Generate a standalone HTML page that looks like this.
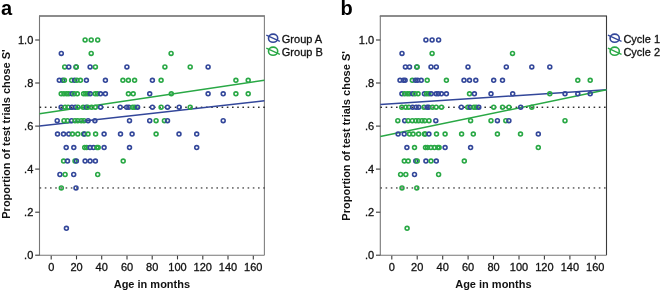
<!DOCTYPE html>
<html><head><meta charset="utf-8"><style>
html,body{margin:0;padding:0;background:#fff;}
svg{display:block;will-change:transform;filter:blur(0.3px);font-family:"Liberation Sans",sans-serif;}
</style></head><body>
<svg width="661" height="291" viewBox="0 0 661 291">
<rect width="661" height="291" fill="#fff"/>
<g stroke="#777" stroke-width="1.1" fill="none">
<path d="M39.0 16.0 H264.9" stroke="#666" stroke-width="1.5"/>
<path d="M264.4 16.0 V255.2" stroke="#808080"/>
<path d="M39.5 16.0 V255.2 H264.4"/>
</g><g stroke="#3a3a3a" stroke-width="1.1" fill="none">
<path d="M35.2 255.2 H39.5"/>
<path d="M35.2 212.2 H39.5"/>
<path d="M35.2 169.1 H39.5"/>
<path d="M35.2 126.1 H39.5"/>
<path d="M35.2 83.0 H39.5"/>
<path d="M35.2 40.0 H39.5"/>
<path d="M51.2 255.7 V259.4"/>
<path d="M76.5 255.7 V259.4"/>
<path d="M101.7 255.7 V259.4"/>
<path d="M127.0 255.7 V259.4"/>
<path d="M152.2 255.7 V259.4"/>
<path d="M177.5 255.7 V259.4"/>
<path d="M202.8 255.7 V259.4"/>
<path d="M228.0 255.7 V259.4"/>
<path d="M253.3 255.7 V259.4"/>
</g>
<g fill="#1a1a1a"><rect x="39.6" y="106.6" width="1.6" height="1.3"/><rect x="44.8" y="106.6" width="1.6" height="1.3"/><rect x="50.0" y="106.6" width="1.6" height="1.3"/><rect x="55.2" y="106.6" width="1.6" height="1.3"/><rect x="60.4" y="106.6" width="1.6" height="1.3"/><rect x="65.6" y="106.6" width="1.6" height="1.3"/><rect x="70.8" y="106.6" width="1.6" height="1.3"/><rect x="76.0" y="106.6" width="1.6" height="1.3"/><rect x="81.2" y="106.6" width="1.6" height="1.3"/><rect x="86.4" y="106.6" width="1.6" height="1.3"/><rect x="91.6" y="106.6" width="1.6" height="1.3"/><rect x="96.8" y="106.6" width="1.6" height="1.3"/><rect x="102.0" y="106.6" width="1.6" height="1.3"/><rect x="107.2" y="106.6" width="1.6" height="1.3"/><rect x="112.4" y="106.6" width="1.6" height="1.3"/><rect x="117.6" y="106.6" width="1.6" height="1.3"/><rect x="122.8" y="106.6" width="1.6" height="1.3"/><rect x="128.0" y="106.6" width="1.6" height="1.3"/><rect x="133.2" y="106.6" width="1.6" height="1.3"/><rect x="138.4" y="106.6" width="1.6" height="1.3"/><rect x="143.6" y="106.6" width="1.6" height="1.3"/><rect x="148.8" y="106.6" width="1.6" height="1.3"/><rect x="154.0" y="106.6" width="1.6" height="1.3"/><rect x="159.2" y="106.6" width="1.6" height="1.3"/><rect x="164.4" y="106.6" width="1.6" height="1.3"/><rect x="169.6" y="106.6" width="1.6" height="1.3"/><rect x="174.8" y="106.6" width="1.6" height="1.3"/><rect x="180.0" y="106.6" width="1.6" height="1.3"/><rect x="185.2" y="106.6" width="1.6" height="1.3"/><rect x="190.4" y="106.6" width="1.6" height="1.3"/><rect x="195.6" y="106.6" width="1.6" height="1.3"/><rect x="200.8" y="106.6" width="1.6" height="1.3"/><rect x="206.0" y="106.6" width="1.6" height="1.3"/><rect x="211.2" y="106.6" width="1.6" height="1.3"/><rect x="216.4" y="106.6" width="1.6" height="1.3"/><rect x="221.6" y="106.6" width="1.6" height="1.3"/><rect x="226.8" y="106.6" width="1.6" height="1.3"/><rect x="232.0" y="106.6" width="1.6" height="1.3"/><rect x="237.2" y="106.6" width="1.6" height="1.3"/><rect x="242.4" y="106.6" width="1.6" height="1.3"/><rect x="247.6" y="106.6" width="1.6" height="1.3"/><rect x="252.8" y="106.6" width="1.6" height="1.3"/><rect x="258.0" y="106.6" width="1.6" height="1.3"/><rect x="263.2" y="106.6" width="1.6" height="1.3"/></g><g fill="#444"><rect x="39.6" y="187.3" width="1.6" height="1.3"/><rect x="44.8" y="187.3" width="1.6" height="1.3"/><rect x="50.0" y="187.3" width="1.6" height="1.3"/><rect x="55.2" y="187.3" width="1.6" height="1.3"/><rect x="60.4" y="187.3" width="1.6" height="1.3"/><rect x="65.6" y="187.3" width="1.6" height="1.3"/><rect x="70.8" y="187.3" width="1.6" height="1.3"/><rect x="76.0" y="187.3" width="1.6" height="1.3"/><rect x="81.2" y="187.3" width="1.6" height="1.3"/><rect x="86.4" y="187.3" width="1.6" height="1.3"/><rect x="91.6" y="187.3" width="1.6" height="1.3"/><rect x="96.8" y="187.3" width="1.6" height="1.3"/><rect x="102.0" y="187.3" width="1.6" height="1.3"/><rect x="107.2" y="187.3" width="1.6" height="1.3"/><rect x="112.4" y="187.3" width="1.6" height="1.3"/><rect x="117.6" y="187.3" width="1.6" height="1.3"/><rect x="122.8" y="187.3" width="1.6" height="1.3"/><rect x="128.0" y="187.3" width="1.6" height="1.3"/><rect x="133.2" y="187.3" width="1.6" height="1.3"/><rect x="138.4" y="187.3" width="1.6" height="1.3"/><rect x="143.6" y="187.3" width="1.6" height="1.3"/><rect x="148.8" y="187.3" width="1.6" height="1.3"/><rect x="154.0" y="187.3" width="1.6" height="1.3"/><rect x="159.2" y="187.3" width="1.6" height="1.3"/><rect x="164.4" y="187.3" width="1.6" height="1.3"/><rect x="169.6" y="187.3" width="1.6" height="1.3"/><rect x="174.8" y="187.3" width="1.6" height="1.3"/><rect x="180.0" y="187.3" width="1.6" height="1.3"/><rect x="185.2" y="187.3" width="1.6" height="1.3"/><rect x="190.4" y="187.3" width="1.6" height="1.3"/><rect x="195.6" y="187.3" width="1.6" height="1.3"/><rect x="200.8" y="187.3" width="1.6" height="1.3"/><rect x="206.0" y="187.3" width="1.6" height="1.3"/><rect x="211.2" y="187.3" width="1.6" height="1.3"/><rect x="216.4" y="187.3" width="1.6" height="1.3"/><rect x="221.6" y="187.3" width="1.6" height="1.3"/><rect x="226.8" y="187.3" width="1.6" height="1.3"/><rect x="232.0" y="187.3" width="1.6" height="1.3"/><rect x="237.2" y="187.3" width="1.6" height="1.3"/><rect x="242.4" y="187.3" width="1.6" height="1.3"/><rect x="247.6" y="187.3" width="1.6" height="1.3"/><rect x="252.8" y="187.3" width="1.6" height="1.3"/><rect x="258.0" y="187.3" width="1.6" height="1.3"/><rect x="263.2" y="187.3" width="1.6" height="1.3"/></g>
<line x1="39.5" y1="113.8" x2="264.4" y2="80.2" stroke="#29a845" stroke-width="1.5"/>
<line x1="39.5" y1="126.1" x2="264.4" y2="100.8" stroke="#33479a" stroke-width="1.5"/>
<g fill="none" stroke-width="1.6"><circle cx="85.1" cy="40.0" r="1.95" stroke="#29a845"/>
<circle cx="91.2" cy="40.0" r="1.95" stroke="#29a845"/>
<circle cx="97.7" cy="40.0" r="1.95" stroke="#29a845"/>
<circle cx="61.3" cy="53.4" r="1.95" stroke="#33479a"/>
<circle cx="91.2" cy="53.4" r="1.95" stroke="#29a845"/>
<circle cx="171.1" cy="53.4" r="1.95" stroke="#29a845"/>
<circle cx="64.7" cy="66.9" r="1.95" stroke="#29a845"/>
<circle cx="68.8" cy="66.9" r="1.95" stroke="#33479a"/>
<circle cx="76.0" cy="66.9" r="1.95" stroke="#33479a"/>
<circle cx="76.3" cy="66.9" r="1.95" stroke="#29a845"/>
<circle cx="90.1" cy="66.9" r="1.95" stroke="#33479a"/>
<circle cx="95.4" cy="66.9" r="1.95" stroke="#29a845"/>
<circle cx="126.9" cy="66.9" r="1.95" stroke="#33479a"/>
<circle cx="164.9" cy="66.9" r="1.95" stroke="#29a845"/>
<circle cx="190.2" cy="66.9" r="1.95" stroke="#29a845"/>
<circle cx="208.1" cy="66.9" r="1.95" stroke="#33479a"/>
<circle cx="59.3" cy="80.3" r="1.95" stroke="#33479a"/>
<circle cx="62.7" cy="80.3" r="1.95" stroke="#33479a"/>
<circle cx="64.4" cy="80.3" r="1.95" stroke="#29a845"/>
<circle cx="71.6" cy="80.3" r="1.95" stroke="#29a845"/>
<circle cx="74.6" cy="80.3" r="1.95" stroke="#33479a"/>
<circle cx="76.9" cy="80.3" r="1.95" stroke="#29a845"/>
<circle cx="80.4" cy="80.3" r="1.95" stroke="#29a845"/>
<circle cx="86.4" cy="80.3" r="1.95" stroke="#33479a"/>
<circle cx="105.4" cy="80.3" r="1.95" stroke="#33479a"/>
<circle cx="122.9" cy="80.3" r="1.95" stroke="#29a845"/>
<circle cx="128.4" cy="80.3" r="1.95" stroke="#29a845"/>
<circle cx="134.6" cy="80.3" r="1.95" stroke="#29a845"/>
<circle cx="152.4" cy="80.3" r="1.95" stroke="#33479a"/>
<circle cx="161.1" cy="80.3" r="1.95" stroke="#29a845"/>
<circle cx="235.9" cy="80.3" r="1.95" stroke="#29a845"/>
<circle cx="248.2" cy="80.3" r="1.95" stroke="#29a845"/>
<circle cx="61.2" cy="93.8" r="1.95" stroke="#29a845"/>
<circle cx="63.9" cy="93.8" r="1.95" stroke="#29a845"/>
<circle cx="66.6" cy="93.8" r="1.95" stroke="#29a845"/>
<circle cx="68.8" cy="93.8" r="1.95" stroke="#29a845"/>
<circle cx="72.0" cy="93.8" r="1.95" stroke="#33479a"/>
<circle cx="74.2" cy="93.8" r="1.95" stroke="#29a845"/>
<circle cx="77.3" cy="93.8" r="1.95" stroke="#29a845"/>
<circle cx="83.6" cy="93.8" r="1.95" stroke="#29a845"/>
<circle cx="85.8" cy="93.8" r="1.95" stroke="#29a845"/>
<circle cx="88.0" cy="93.8" r="1.95" stroke="#29a845"/>
<circle cx="90.3" cy="93.8" r="1.95" stroke="#33479a"/>
<circle cx="95.2" cy="93.8" r="1.95" stroke="#29a845"/>
<circle cx="97.4" cy="93.8" r="1.95" stroke="#29a845"/>
<circle cx="100.5" cy="93.8" r="1.95" stroke="#33479a"/>
<circle cx="105.4" cy="93.8" r="1.95" stroke="#33479a"/>
<circle cx="128.4" cy="93.8" r="1.95" stroke="#29a845"/>
<circle cx="133.2" cy="93.8" r="1.95" stroke="#29a845"/>
<circle cx="149.7" cy="93.8" r="1.95" stroke="#33479a"/>
<circle cx="171.3" cy="93.8" r="1.95" stroke="#29a845"/>
<circle cx="208.1" cy="93.8" r="1.95" stroke="#33479a"/>
<circle cx="223.2" cy="93.8" r="1.95" stroke="#33479a"/>
<circle cx="235.9" cy="93.8" r="1.95" stroke="#29a845"/>
<circle cx="248.2" cy="93.8" r="1.95" stroke="#29a845"/>
<circle cx="61.1" cy="107.2" r="1.95" stroke="#33479a"/>
<circle cx="65.1" cy="107.2" r="1.95" stroke="#29a845"/>
<circle cx="68.1" cy="107.2" r="1.95" stroke="#29a845"/>
<circle cx="71.9" cy="107.2" r="1.95" stroke="#33479a"/>
<circle cx="75.3" cy="107.2" r="1.95" stroke="#33479a"/>
<circle cx="77.9" cy="107.2" r="1.95" stroke="#29a845"/>
<circle cx="83.2" cy="107.2" r="1.95" stroke="#29a845"/>
<circle cx="86.3" cy="107.2" r="1.95" stroke="#33479a"/>
<circle cx="87.8" cy="107.2" r="1.95" stroke="#29a845"/>
<circle cx="91.6" cy="107.2" r="1.95" stroke="#29a845"/>
<circle cx="95.3" cy="107.2" r="1.95" stroke="#29a845"/>
<circle cx="100.6" cy="107.2" r="1.95" stroke="#33479a"/>
<circle cx="120.2" cy="107.2" r="1.95" stroke="#33479a"/>
<circle cx="126.7" cy="107.2" r="1.95" stroke="#33479a"/>
<circle cx="128.9" cy="107.2" r="1.95" stroke="#33479a"/>
<circle cx="132.7" cy="107.2" r="1.95" stroke="#29a845"/>
<circle cx="134.9" cy="107.2" r="1.95" stroke="#29a845"/>
<circle cx="137.6" cy="107.2" r="1.95" stroke="#33479a"/>
<circle cx="152.4" cy="107.2" r="1.95" stroke="#33479a"/>
<circle cx="161.1" cy="107.2" r="1.95" stroke="#29a845"/>
<circle cx="167.5" cy="107.2" r="1.95" stroke="#33479a"/>
<circle cx="179.2" cy="107.2" r="1.95" stroke="#33479a"/>
<circle cx="190.2" cy="107.2" r="1.95" stroke="#29a845"/>
<circle cx="57.2" cy="120.7" r="1.95" stroke="#33479a"/>
<circle cx="64.0" cy="120.7" r="1.95" stroke="#29a845"/>
<circle cx="67.5" cy="120.7" r="1.95" stroke="#29a845"/>
<circle cx="71.6" cy="120.7" r="1.95" stroke="#33479a"/>
<circle cx="75.0" cy="120.7" r="1.95" stroke="#29a845"/>
<circle cx="77.8" cy="120.7" r="1.95" stroke="#29a845"/>
<circle cx="81.2" cy="120.7" r="1.95" stroke="#29a845"/>
<circle cx="84.0" cy="120.7" r="1.95" stroke="#29a845"/>
<circle cx="88.1" cy="120.7" r="1.95" stroke="#33479a"/>
<circle cx="94.9" cy="120.7" r="1.95" stroke="#33479a"/>
<circle cx="129.5" cy="120.7" r="1.95" stroke="#33479a"/>
<circle cx="149.7" cy="120.7" r="1.95" stroke="#33479a"/>
<circle cx="156.1" cy="120.7" r="1.95" stroke="#29a845"/>
<circle cx="164.4" cy="120.7" r="1.95" stroke="#29a845"/>
<circle cx="167.5" cy="120.7" r="1.95" stroke="#33479a"/>
<circle cx="223.2" cy="120.7" r="1.95" stroke="#33479a"/>
<circle cx="57.5" cy="134.1" r="1.95" stroke="#33479a"/>
<circle cx="63.5" cy="134.1" r="1.95" stroke="#33479a"/>
<circle cx="68.8" cy="134.1" r="1.95" stroke="#33479a"/>
<circle cx="72.4" cy="134.1" r="1.95" stroke="#29a845"/>
<circle cx="77.8" cy="134.1" r="1.95" stroke="#29a845"/>
<circle cx="83.6" cy="134.1" r="1.95" stroke="#29a845"/>
<circle cx="84.5" cy="134.1" r="1.95" stroke="#33479a"/>
<circle cx="88.0" cy="134.1" r="1.95" stroke="#29a845"/>
<circle cx="95.6" cy="134.1" r="1.95" stroke="#29a845"/>
<circle cx="104.1" cy="134.1" r="1.95" stroke="#33479a"/>
<circle cx="120.5" cy="134.1" r="1.95" stroke="#33479a"/>
<circle cx="132.1" cy="134.1" r="1.95" stroke="#33479a"/>
<circle cx="156.1" cy="134.1" r="1.95" stroke="#29a845"/>
<circle cx="179.0" cy="134.1" r="1.95" stroke="#33479a"/>
<circle cx="196.7" cy="134.1" r="1.95" stroke="#33479a"/>
<circle cx="66.2" cy="147.6" r="1.95" stroke="#33479a"/>
<circle cx="73.8" cy="147.6" r="1.95" stroke="#33479a"/>
<circle cx="84.7" cy="147.6" r="1.95" stroke="#29a845"/>
<circle cx="86.7" cy="147.6" r="1.95" stroke="#29a845"/>
<circle cx="90.0" cy="147.6" r="1.95" stroke="#33479a"/>
<circle cx="93.5" cy="147.6" r="1.95" stroke="#33479a"/>
<circle cx="97.0" cy="147.6" r="1.95" stroke="#29a845"/>
<circle cx="98.2" cy="147.6" r="1.95" stroke="#29a845"/>
<circle cx="104.1" cy="147.6" r="1.95" stroke="#33479a"/>
<circle cx="129.5" cy="147.6" r="1.95" stroke="#33479a"/>
<circle cx="196.7" cy="147.6" r="1.95" stroke="#33479a"/>
<circle cx="63.6" cy="161.1" r="1.95" stroke="#29a845"/>
<circle cx="67.5" cy="161.1" r="1.95" stroke="#33479a"/>
<circle cx="75.0" cy="161.1" r="1.95" stroke="#29a845"/>
<circle cx="76.4" cy="161.1" r="1.95" stroke="#33479a"/>
<circle cx="85.1" cy="161.1" r="1.95" stroke="#33479a"/>
<circle cx="90.1" cy="161.1" r="1.95" stroke="#33479a"/>
<circle cx="95.4" cy="161.1" r="1.95" stroke="#33479a"/>
<circle cx="123.2" cy="161.1" r="1.95" stroke="#29a845"/>
<circle cx="59.9" cy="174.5" r="1.95" stroke="#33479a"/>
<circle cx="65.1" cy="174.5" r="1.95" stroke="#29a845"/>
<circle cx="73.7" cy="174.5" r="1.95" stroke="#33479a"/>
<circle cx="97.7" cy="174.5" r="1.95" stroke="#29a845"/>
<circle cx="61.3" cy="187.9" r="1.95" stroke="#29a845"/>
<circle cx="76.0" cy="187.9" r="1.95" stroke="#33479a"/>
<circle cx="66.4" cy="228.3" r="1.95" stroke="#33479a"/></g>
<g font-size="11" fill="#111" stroke="#111" stroke-width="0.3">
<text x="33.3" y="259.0" text-anchor="end">.0</text>
<text x="33.3" y="216.0" text-anchor="end">.2</text>
<text x="33.3" y="172.9" text-anchor="end">.4</text>
<text x="33.3" y="129.9" text-anchor="end">.6</text>
<text x="33.3" y="86.8" text-anchor="end">.8</text>
<text x="33.3" y="43.8" text-anchor="end">1.0</text>
<text x="51.2" y="270.6" text-anchor="middle">0</text>
<text x="76.5" y="270.6" text-anchor="middle">20</text>
<text x="101.7" y="270.6" text-anchor="middle">40</text>
<text x="127.0" y="270.6" text-anchor="middle">60</text>
<text x="152.2" y="270.6" text-anchor="middle">80</text>
<text x="177.5" y="270.6" text-anchor="middle">100</text>
<text x="202.8" y="270.6" text-anchor="middle">120</text>
<text x="228.0" y="270.6" text-anchor="middle">140</text>
<text x="253.3" y="270.6" text-anchor="middle">160</text>
</g>
<text x="151.9" y="287.7" font-size="11" font-weight="bold" text-anchor="middle" fill="#111">Age in months</text>
<text transform="translate(10.2,134.00) rotate(-90)" font-size="11" font-weight="bold" text-anchor="middle" fill="#111">Proportion of test trials chose S'</text>
<text x="1.0" y="15.1" font-size="20" font-weight="bold" fill="#000">a</text>
<ellipse cx="273.1" cy="38.2" rx="4.6" ry="4.1" fill="none" stroke="#33479a" stroke-width="1.6"/>
<line x1="266.3" y1="35.2" x2="279.9" y2="41.4" stroke="#33479a" stroke-width="1.3"/>
<text x="281.8" y="43.0" font-size="11" fill="#111" stroke="#111" stroke-width="0.3">Group A</text>
<ellipse cx="273.1" cy="51.2" rx="4.6" ry="4.1" fill="none" stroke="#29a845" stroke-width="1.6"/>
<line x1="266.3" y1="48.2" x2="279.9" y2="54.4" stroke="#29a845" stroke-width="1.3"/>
<text x="281.8" y="56.0" font-size="11" fill="#111" stroke="#111" stroke-width="0.3">Group B</text>
<g stroke="#777" stroke-width="1.1" fill="none">
<path d="M379.8 16.0 H607.0" stroke="#666" stroke-width="1.5"/>
<path d="M606.5 16.0 V255.2" stroke="#3a3a3a"/>
<path d="M380.3 16.0 V255.2 H606.5"/>
</g><g stroke="#3a3a3a" stroke-width="1.1" fill="none">
<path d="M376.0 255.2 H380.3"/>
<path d="M376.0 212.2 H380.3"/>
<path d="M376.0 169.1 H380.3"/>
<path d="M376.0 126.1 H380.3"/>
<path d="M376.0 83.0 H380.3"/>
<path d="M376.0 40.0 H380.3"/>
<path d="M391.8 255.7 V259.4"/>
<path d="M417.2 255.7 V259.4"/>
<path d="M442.7 255.7 V259.4"/>
<path d="M468.1 255.7 V259.4"/>
<path d="M493.5 255.7 V259.4"/>
<path d="M519.0 255.7 V259.4"/>
<path d="M544.4 255.7 V259.4"/>
<path d="M569.9 255.7 V259.4"/>
<path d="M595.3 255.7 V259.4"/>
</g>
<g fill="#1a1a1a"><rect x="380.4" y="106.6" width="1.6" height="1.3"/><rect x="385.6" y="106.6" width="1.6" height="1.3"/><rect x="390.8" y="106.6" width="1.6" height="1.3"/><rect x="396.0" y="106.6" width="1.6" height="1.3"/><rect x="401.2" y="106.6" width="1.6" height="1.3"/><rect x="406.4" y="106.6" width="1.6" height="1.3"/><rect x="411.6" y="106.6" width="1.6" height="1.3"/><rect x="416.8" y="106.6" width="1.6" height="1.3"/><rect x="422.0" y="106.6" width="1.6" height="1.3"/><rect x="427.2" y="106.6" width="1.6" height="1.3"/><rect x="432.4" y="106.6" width="1.6" height="1.3"/><rect x="437.6" y="106.6" width="1.6" height="1.3"/><rect x="442.8" y="106.6" width="1.6" height="1.3"/><rect x="448.0" y="106.6" width="1.6" height="1.3"/><rect x="453.2" y="106.6" width="1.6" height="1.3"/><rect x="458.4" y="106.6" width="1.6" height="1.3"/><rect x="463.6" y="106.6" width="1.6" height="1.3"/><rect x="468.8" y="106.6" width="1.6" height="1.3"/><rect x="474.0" y="106.6" width="1.6" height="1.3"/><rect x="479.2" y="106.6" width="1.6" height="1.3"/><rect x="484.4" y="106.6" width="1.6" height="1.3"/><rect x="489.6" y="106.6" width="1.6" height="1.3"/><rect x="494.8" y="106.6" width="1.6" height="1.3"/><rect x="500.0" y="106.6" width="1.6" height="1.3"/><rect x="505.2" y="106.6" width="1.6" height="1.3"/><rect x="510.4" y="106.6" width="1.6" height="1.3"/><rect x="515.6" y="106.6" width="1.6" height="1.3"/><rect x="520.8" y="106.6" width="1.6" height="1.3"/><rect x="526.0" y="106.6" width="1.6" height="1.3"/><rect x="531.2" y="106.6" width="1.6" height="1.3"/><rect x="536.4" y="106.6" width="1.6" height="1.3"/><rect x="541.6" y="106.6" width="1.6" height="1.3"/><rect x="546.8" y="106.6" width="1.6" height="1.3"/><rect x="552.0" y="106.6" width="1.6" height="1.3"/><rect x="557.2" y="106.6" width="1.6" height="1.3"/><rect x="562.4" y="106.6" width="1.6" height="1.3"/><rect x="567.6" y="106.6" width="1.6" height="1.3"/><rect x="572.8" y="106.6" width="1.6" height="1.3"/><rect x="578.0" y="106.6" width="1.6" height="1.3"/><rect x="583.2" y="106.6" width="1.6" height="1.3"/><rect x="588.4" y="106.6" width="1.6" height="1.3"/><rect x="593.6" y="106.6" width="1.6" height="1.3"/><rect x="598.8" y="106.6" width="1.6" height="1.3"/><rect x="604.0" y="106.6" width="1.6" height="1.3"/></g><g fill="#444"><rect x="380.4" y="187.3" width="1.6" height="1.3"/><rect x="385.6" y="187.3" width="1.6" height="1.3"/><rect x="390.8" y="187.3" width="1.6" height="1.3"/><rect x="396.0" y="187.3" width="1.6" height="1.3"/><rect x="401.2" y="187.3" width="1.6" height="1.3"/><rect x="406.4" y="187.3" width="1.6" height="1.3"/><rect x="411.6" y="187.3" width="1.6" height="1.3"/><rect x="416.8" y="187.3" width="1.6" height="1.3"/><rect x="422.0" y="187.3" width="1.6" height="1.3"/><rect x="427.2" y="187.3" width="1.6" height="1.3"/><rect x="432.4" y="187.3" width="1.6" height="1.3"/><rect x="437.6" y="187.3" width="1.6" height="1.3"/><rect x="442.8" y="187.3" width="1.6" height="1.3"/><rect x="448.0" y="187.3" width="1.6" height="1.3"/><rect x="453.2" y="187.3" width="1.6" height="1.3"/><rect x="458.4" y="187.3" width="1.6" height="1.3"/><rect x="463.6" y="187.3" width="1.6" height="1.3"/><rect x="468.8" y="187.3" width="1.6" height="1.3"/><rect x="474.0" y="187.3" width="1.6" height="1.3"/><rect x="479.2" y="187.3" width="1.6" height="1.3"/><rect x="484.4" y="187.3" width="1.6" height="1.3"/><rect x="489.6" y="187.3" width="1.6" height="1.3"/><rect x="494.8" y="187.3" width="1.6" height="1.3"/><rect x="500.0" y="187.3" width="1.6" height="1.3"/><rect x="505.2" y="187.3" width="1.6" height="1.3"/><rect x="510.4" y="187.3" width="1.6" height="1.3"/><rect x="515.6" y="187.3" width="1.6" height="1.3"/><rect x="520.8" y="187.3" width="1.6" height="1.3"/><rect x="526.0" y="187.3" width="1.6" height="1.3"/><rect x="531.2" y="187.3" width="1.6" height="1.3"/><rect x="536.4" y="187.3" width="1.6" height="1.3"/><rect x="541.6" y="187.3" width="1.6" height="1.3"/><rect x="546.8" y="187.3" width="1.6" height="1.3"/><rect x="552.0" y="187.3" width="1.6" height="1.3"/><rect x="557.2" y="187.3" width="1.6" height="1.3"/><rect x="562.4" y="187.3" width="1.6" height="1.3"/><rect x="567.6" y="187.3" width="1.6" height="1.3"/><rect x="572.8" y="187.3" width="1.6" height="1.3"/><rect x="578.0" y="187.3" width="1.6" height="1.3"/><rect x="583.2" y="187.3" width="1.6" height="1.3"/><rect x="588.4" y="187.3" width="1.6" height="1.3"/><rect x="593.6" y="187.3" width="1.6" height="1.3"/><rect x="598.8" y="187.3" width="1.6" height="1.3"/><rect x="604.0" y="187.3" width="1.6" height="1.3"/></g>
<line x1="380.3" y1="104.6" x2="606.5" y2="89.8" stroke="#33479a" stroke-width="1.5"/>
<line x1="380.3" y1="136.6" x2="606.5" y2="89.8" stroke="#29a845" stroke-width="1.5"/>
<g fill="none" stroke-width="1.6"><circle cx="425.9" cy="40.0" r="1.95" stroke="#33479a"/>
<circle cx="432.1" cy="40.0" r="1.95" stroke="#33479a"/>
<circle cx="438.6" cy="40.0" r="1.95" stroke="#33479a"/>
<circle cx="402.0" cy="53.4" r="1.95" stroke="#33479a"/>
<circle cx="432.1" cy="53.4" r="1.95" stroke="#29a845"/>
<circle cx="512.5" cy="53.4" r="1.95" stroke="#29a845"/>
<circle cx="405.4" cy="66.9" r="1.95" stroke="#33479a"/>
<circle cx="409.5" cy="66.9" r="1.95" stroke="#33479a"/>
<circle cx="416.8" cy="66.9" r="1.95" stroke="#33479a"/>
<circle cx="417.1" cy="66.9" r="1.95" stroke="#29a845"/>
<circle cx="431.0" cy="66.9" r="1.95" stroke="#33479a"/>
<circle cx="436.3" cy="66.9" r="1.95" stroke="#33479a"/>
<circle cx="468.0" cy="66.9" r="1.95" stroke="#33479a"/>
<circle cx="506.3" cy="66.9" r="1.95" stroke="#33479a"/>
<circle cx="531.8" cy="66.9" r="1.95" stroke="#33479a"/>
<circle cx="549.8" cy="66.9" r="1.95" stroke="#33479a"/>
<circle cx="400.0" cy="80.3" r="1.95" stroke="#33479a"/>
<circle cx="403.4" cy="80.3" r="1.95" stroke="#33479a"/>
<circle cx="405.1" cy="80.3" r="1.95" stroke="#33479a"/>
<circle cx="412.3" cy="80.3" r="1.95" stroke="#29a845"/>
<circle cx="415.4" cy="80.3" r="1.95" stroke="#33479a"/>
<circle cx="417.7" cy="80.3" r="1.95" stroke="#33479a"/>
<circle cx="421.2" cy="80.3" r="1.95" stroke="#33479a"/>
<circle cx="427.2" cy="80.3" r="1.95" stroke="#29a845"/>
<circle cx="446.4" cy="80.3" r="1.95" stroke="#29a845"/>
<circle cx="464.0" cy="80.3" r="1.95" stroke="#33479a"/>
<circle cx="469.5" cy="80.3" r="1.95" stroke="#33479a"/>
<circle cx="475.8" cy="80.3" r="1.95" stroke="#33479a"/>
<circle cx="493.7" cy="80.3" r="1.95" stroke="#33479a"/>
<circle cx="502.5" cy="80.3" r="1.95" stroke="#33479a"/>
<circle cx="577.8" cy="80.3" r="1.95" stroke="#29a845"/>
<circle cx="590.2" cy="80.3" r="1.95" stroke="#29a845"/>
<circle cx="401.9" cy="93.8" r="1.95" stroke="#33479a"/>
<circle cx="404.6" cy="93.8" r="1.95" stroke="#29a845"/>
<circle cx="407.3" cy="93.8" r="1.95" stroke="#29a845"/>
<circle cx="409.5" cy="93.8" r="1.95" stroke="#29a845"/>
<circle cx="412.7" cy="93.8" r="1.95" stroke="#33479a"/>
<circle cx="415.0" cy="93.8" r="1.95" stroke="#29a845"/>
<circle cx="418.1" cy="93.8" r="1.95" stroke="#29a845"/>
<circle cx="424.4" cy="93.8" r="1.95" stroke="#33479a"/>
<circle cx="426.6" cy="93.8" r="1.95" stroke="#29a845"/>
<circle cx="428.9" cy="93.8" r="1.95" stroke="#29a845"/>
<circle cx="431.2" cy="93.8" r="1.95" stroke="#33479a"/>
<circle cx="436.1" cy="93.8" r="1.95" stroke="#33479a"/>
<circle cx="438.3" cy="93.8" r="1.95" stroke="#33479a"/>
<circle cx="441.4" cy="93.8" r="1.95" stroke="#33479a"/>
<circle cx="446.4" cy="93.8" r="1.95" stroke="#33479a"/>
<circle cx="469.5" cy="93.8" r="1.95" stroke="#29a845"/>
<circle cx="474.4" cy="93.8" r="1.95" stroke="#33479a"/>
<circle cx="491.0" cy="93.8" r="1.95" stroke="#33479a"/>
<circle cx="512.7" cy="93.8" r="1.95" stroke="#33479a"/>
<circle cx="549.8" cy="93.8" r="1.95" stroke="#29a845"/>
<circle cx="565.0" cy="93.8" r="1.95" stroke="#33479a"/>
<circle cx="577.8" cy="93.8" r="1.95" stroke="#33479a"/>
<circle cx="590.2" cy="93.8" r="1.95" stroke="#33479a"/>
<circle cx="401.8" cy="107.2" r="1.95" stroke="#29a845"/>
<circle cx="405.8" cy="107.2" r="1.95" stroke="#29a845"/>
<circle cx="408.8" cy="107.2" r="1.95" stroke="#29a845"/>
<circle cx="412.6" cy="107.2" r="1.95" stroke="#33479a"/>
<circle cx="416.1" cy="107.2" r="1.95" stroke="#33479a"/>
<circle cx="418.7" cy="107.2" r="1.95" stroke="#33479a"/>
<circle cx="424.0" cy="107.2" r="1.95" stroke="#29a845"/>
<circle cx="427.1" cy="107.2" r="1.95" stroke="#33479a"/>
<circle cx="428.7" cy="107.2" r="1.95" stroke="#33479a"/>
<circle cx="432.5" cy="107.2" r="1.95" stroke="#29a845"/>
<circle cx="436.2" cy="107.2" r="1.95" stroke="#29a845"/>
<circle cx="441.5" cy="107.2" r="1.95" stroke="#29a845"/>
<circle cx="461.3" cy="107.2" r="1.95" stroke="#33479a"/>
<circle cx="467.8" cy="107.2" r="1.95" stroke="#29a845"/>
<circle cx="470.0" cy="107.2" r="1.95" stroke="#33479a"/>
<circle cx="473.9" cy="107.2" r="1.95" stroke="#29a845"/>
<circle cx="476.1" cy="107.2" r="1.95" stroke="#29a845"/>
<circle cx="478.8" cy="107.2" r="1.95" stroke="#33479a"/>
<circle cx="493.7" cy="107.2" r="1.95" stroke="#29a845"/>
<circle cx="502.5" cy="107.2" r="1.95" stroke="#29a845"/>
<circle cx="508.9" cy="107.2" r="1.95" stroke="#29a845"/>
<circle cx="520.7" cy="107.2" r="1.95" stroke="#33479a"/>
<circle cx="531.8" cy="107.2" r="1.95" stroke="#29a845"/>
<circle cx="397.8" cy="120.7" r="1.95" stroke="#29a845"/>
<circle cx="404.7" cy="120.7" r="1.95" stroke="#33479a"/>
<circle cx="408.2" cy="120.7" r="1.95" stroke="#29a845"/>
<circle cx="412.3" cy="120.7" r="1.95" stroke="#29a845"/>
<circle cx="415.8" cy="120.7" r="1.95" stroke="#29a845"/>
<circle cx="418.6" cy="120.7" r="1.95" stroke="#29a845"/>
<circle cx="422.0" cy="120.7" r="1.95" stroke="#29a845"/>
<circle cx="424.8" cy="120.7" r="1.95" stroke="#29a845"/>
<circle cx="429.0" cy="120.7" r="1.95" stroke="#29a845"/>
<circle cx="435.8" cy="120.7" r="1.95" stroke="#33479a"/>
<circle cx="470.6" cy="120.7" r="1.95" stroke="#29a845"/>
<circle cx="491.0" cy="120.7" r="1.95" stroke="#29a845"/>
<circle cx="497.4" cy="120.7" r="1.95" stroke="#33479a"/>
<circle cx="505.8" cy="120.7" r="1.95" stroke="#29a845"/>
<circle cx="508.9" cy="120.7" r="1.95" stroke="#33479a"/>
<circle cx="565.0" cy="120.7" r="1.95" stroke="#29a845"/>
<circle cx="398.1" cy="134.1" r="1.95" stroke="#33479a"/>
<circle cx="404.2" cy="134.1" r="1.95" stroke="#33479a"/>
<circle cx="409.5" cy="134.1" r="1.95" stroke="#29a845"/>
<circle cx="413.1" cy="134.1" r="1.95" stroke="#29a845"/>
<circle cx="418.6" cy="134.1" r="1.95" stroke="#29a845"/>
<circle cx="424.4" cy="134.1" r="1.95" stroke="#29a845"/>
<circle cx="425.3" cy="134.1" r="1.95" stroke="#29a845"/>
<circle cx="428.9" cy="134.1" r="1.95" stroke="#33479a"/>
<circle cx="436.5" cy="134.1" r="1.95" stroke="#29a845"/>
<circle cx="445.1" cy="134.1" r="1.95" stroke="#29a845"/>
<circle cx="461.6" cy="134.1" r="1.95" stroke="#29a845"/>
<circle cx="473.3" cy="134.1" r="1.95" stroke="#29a845"/>
<circle cx="497.4" cy="134.1" r="1.95" stroke="#29a845"/>
<circle cx="520.5" cy="134.1" r="1.95" stroke="#29a845"/>
<circle cx="538.3" cy="134.1" r="1.95" stroke="#33479a"/>
<circle cx="406.9" cy="147.6" r="1.95" stroke="#33479a"/>
<circle cx="414.5" cy="147.6" r="1.95" stroke="#29a845"/>
<circle cx="425.5" cy="147.6" r="1.95" stroke="#29a845"/>
<circle cx="427.5" cy="147.6" r="1.95" stroke="#29a845"/>
<circle cx="430.9" cy="147.6" r="1.95" stroke="#29a845"/>
<circle cx="434.4" cy="147.6" r="1.95" stroke="#29a845"/>
<circle cx="437.9" cy="147.6" r="1.95" stroke="#29a845"/>
<circle cx="439.1" cy="147.6" r="1.95" stroke="#29a845"/>
<circle cx="445.1" cy="147.6" r="1.95" stroke="#33479a"/>
<circle cx="470.6" cy="147.6" r="1.95" stroke="#33479a"/>
<circle cx="538.3" cy="147.6" r="1.95" stroke="#29a845"/>
<circle cx="404.3" cy="161.1" r="1.95" stroke="#29a845"/>
<circle cx="408.2" cy="161.1" r="1.95" stroke="#29a845"/>
<circle cx="415.8" cy="161.1" r="1.95" stroke="#33479a"/>
<circle cx="417.2" cy="161.1" r="1.95" stroke="#29a845"/>
<circle cx="425.9" cy="161.1" r="1.95" stroke="#33479a"/>
<circle cx="431.0" cy="161.1" r="1.95" stroke="#29a845"/>
<circle cx="436.3" cy="161.1" r="1.95" stroke="#33479a"/>
<circle cx="464.3" cy="161.1" r="1.95" stroke="#29a845"/>
<circle cx="400.6" cy="174.5" r="1.95" stroke="#29a845"/>
<circle cx="405.8" cy="174.5" r="1.95" stroke="#29a845"/>
<circle cx="414.5" cy="174.5" r="1.95" stroke="#33479a"/>
<circle cx="438.6" cy="174.5" r="1.95" stroke="#29a845"/>
<circle cx="402.0" cy="187.9" r="1.95" stroke="#29a845"/>
<circle cx="416.8" cy="187.9" r="1.95" stroke="#29a845"/>
<circle cx="407.1" cy="228.3" r="1.95" stroke="#29a845"/></g>
<g font-size="11" fill="#111" stroke="#111" stroke-width="0.3">
<text x="374.1" y="259.0" text-anchor="end">.0</text>
<text x="374.1" y="216.0" text-anchor="end">.2</text>
<text x="374.1" y="172.9" text-anchor="end">.4</text>
<text x="374.1" y="129.9" text-anchor="end">.6</text>
<text x="374.1" y="86.8" text-anchor="end">.8</text>
<text x="374.1" y="43.8" text-anchor="end">1.0</text>
<text x="391.8" y="270.6" text-anchor="middle">0</text>
<text x="417.2" y="270.6" text-anchor="middle">20</text>
<text x="442.7" y="270.6" text-anchor="middle">40</text>
<text x="468.1" y="270.6" text-anchor="middle">60</text>
<text x="493.5" y="270.6" text-anchor="middle">80</text>
<text x="519.0" y="270.6" text-anchor="middle">100</text>
<text x="544.4" y="270.6" text-anchor="middle">120</text>
<text x="569.9" y="270.6" text-anchor="middle">140</text>
<text x="595.3" y="270.6" text-anchor="middle">160</text>
</g>
<text x="493.4" y="287.7" font-size="11" font-weight="bold" text-anchor="middle" fill="#111">Age in months</text>
<text transform="translate(350.3,135.90) rotate(-90)" font-size="11" font-weight="bold" text-anchor="middle" fill="#111">Proportion of test trials chose S'</text>
<text x="340.4" y="15.1" font-size="20" font-weight="bold" fill="#000">b</text>
<ellipse cx="614.7" cy="38.2" rx="4.6" ry="4.1" fill="none" stroke="#33479a" stroke-width="1.6"/>
<line x1="607.9" y1="35.2" x2="621.5" y2="41.4" stroke="#33479a" stroke-width="1.3"/>
<text x="623.4" y="43.0" font-size="11" fill="#111" stroke="#111" stroke-width="0.3">Cycle 1</text>
<ellipse cx="614.7" cy="51.2" rx="4.6" ry="4.1" fill="none" stroke="#29a845" stroke-width="1.6"/>
<line x1="607.9" y1="48.2" x2="621.5" y2="54.4" stroke="#29a845" stroke-width="1.3"/>
<text x="623.4" y="56.0" font-size="11" fill="#111" stroke="#111" stroke-width="0.3">Cycle 2</text>
</svg>
</body></html>
